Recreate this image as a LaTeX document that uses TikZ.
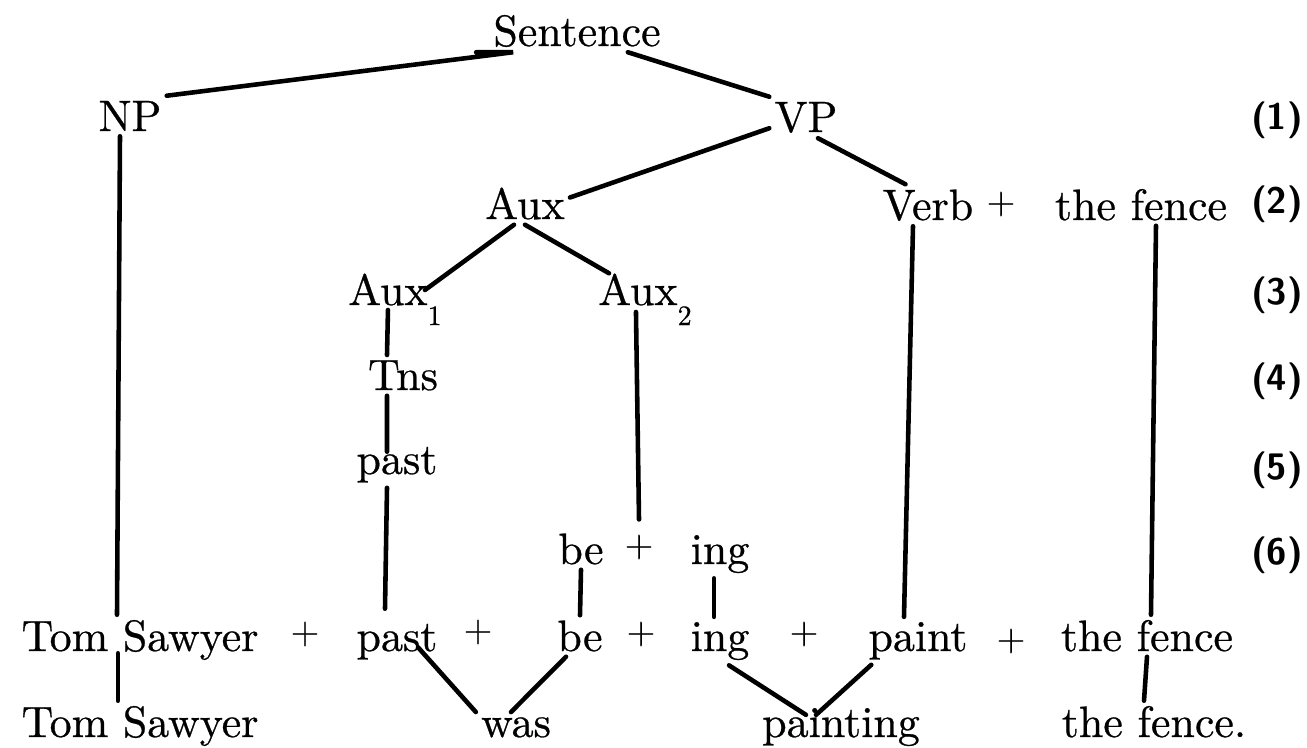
\documentclass[tikz,border=0pt]{standalone}
\usepackage{fontspec}
\newfontfamily\heavyrm{lmroman10-regular.otf}[FakeBold=0.6]
\tikzset{
  word/.style={inner sep=1.5pt, outer sep=0pt, anchor=base, font=\heavyrm\fontsize{12.5}{15}\selectfont},
  plus/.style={inner sep=1.5pt, outer sep=0pt, font=\heavyrm\fontsize{10.5}{12}\selectfont},
  stepno/.style={font=\sffamily\bfseries\fontsize{10.5}{12}\selectfont},
  branch/.style={line width=1.3pt, line cap=round},
}
\newcommand{\lowsub}[1]{\raisebox{-5.7pt}{\footnotesize #1}}

\begin{document}
\begin{tikzpicture}
\useasboundingbox (0,0) rectangle (13.07,-7.48);

% Phrase structure
\node[word] (sent) at (5.77,-0.46) {Sentence};
\node[word] (np) at (1.30,-1.31) {NP};
\node[word] (vp) at (8.06,-1.32) {VP};
\node[word] (aux) at (5.25,-2.19) {Aux};
\node[word] (verb) at (9.28,-2.20) {Verb};
\node[plus] (vplus) at (10.01,-2.04) {+};
\node[word] (fenceA) at (11.41,-2.20) {the fence};
\node[word, anchor=base west] (aux1) at (3.43,-3.05) {Aux\lowsub{1}};
\node[word, anchor=base west] (aux2) at (5.93,-3.05) {Aux\lowsub{2}};
\node[word] (tns) at (4.03,-3.90) {Tns};
\node[word] (pastA) at (3.97,-4.74) {past};
\node[word] (beA) at (5.81,-5.64) {be};
\node[plus] (plusA) at (6.39,-5.47) {+};
\node[word] (ingA) at (7.20,-5.64) {ing};

% Morpheme string
\node[word] (tsA) at (1.40,-6.51) {Tom Sawyer};
\node[plus] (p1) at (3.05,-6.34) {+};
\node[word] (pastB) at (3.97,-6.51) {past};
\node[plus] (p2) at (4.78,-6.32) {+};
\node[word] (beB) at (5.80,-6.51) {be};
\node[plus] (p3) at (6.41,-6.34) {+};
\node[word] (ingB) at (7.20,-6.51) {ing};
\node[plus] (p4) at (8.04,-6.34) {+};
\node[word] (paintB) at (9.18,-6.51) {paint};
\node[plus] (p5) at (10.11,-6.41) {+};
\node[word] (fenceB) at (11.47,-6.51) {the fence};

% Final string
\node[word] (tsB) at (1.40,-7.37) {Tom Sawyer};
\node[word] (was) at (5.16,-7.37) {was};
\node[word] (painting) at (8.41,-7.37) {painting};
\node[word] (fenceC) at (11.54,-7.37) {the fence.};

% Step numbers
\foreach \n/\y in {1/1.20, 2/2.04, 3/2.95, 4/3.81, 5/4.70, 6/5.55}
  \node[stepno] (step\n) at (12.77,-\y) {(\n)};

% Branches
\draw[branch] (np.north east) -- ([xshift=.25cm]sent.south west) -- ++(-.37,0);
\draw[branch] ([xshift=-.38cm]sent.south east) -- (vp.north west);
\draw[branch] ([yshift=.1cm]vp.south west) -- ([yshift=.06cm]aux.east);
\draw[branch] ([xshift=.12cm]vp.south) -- ([xshift=.28cm]verb.north west);
\draw[branch] ([xshift=-.11cm]aux.south) -- ([xshift=.3cm,yshift=.15cm]aux1.base);
\draw[branch] (aux.south) -- ([xshift=.16cm,yshift=-.05cm]aux2.north west);

% Vertical lines
\draw[branch] ([xshift=-.07cm,yshift=-.05cm]aux1.base) -- ([xshift=-.16cm]tns.north);
\draw[branch] ([xshift=-.16cm]tns.south) -- ([xshift=-.1cm,yshift=-.1cm]pastA.north);
\draw[branch] ([xshift=-.1cm]pastA.south) -- ([xshift=-.12cm,yshift=.1cm]pastB.north);
\draw[branch] ([xshift=-.1cm]np.south) -- ([xshift=-.23cm]tsA.north);
\draw[branch] ([xshift=-.22cm,yshift=.12cm]tsA.south) -- ([xshift=-.22cm]tsB.north);
\draw[branch] ([xshift=-.09cm,yshift=-.07cm]aux2.base) -- ([yshift=.1cm]plusA.north);
\draw[branch] (beA.south) -- (beB.north);
\draw[branch] ([xshift=-.06cm]ingA.south) -- ([xshift=-.06cm]ingB.north);
\draw[branch] ([xshift=-.15cm]verb.south) -- ([xshift=-.14cm]paintB.north);
\draw[branch] ([xshift=.15cm]fenceA.south) -- ([xshift=.04cm]fenceB.north);
\draw[branch] (fenceB.south) -- ([xshift=-.1cm]fenceC.north);

% Contractions
\draw[branch] ([xshift=.21cm,yshift=.175cm]pastB.south) -- (was.north west);
\draw[branch] ([xshift=-.14cm]beB.south) -- ([xshift=-.05cm]was.north);
\draw[branch] ([xshift=.09cm]ingB.south) -- ([xshift=-.35cm,yshift=-.12cm]painting.north);
\draw[branch] ([xshift=.08cm]paintB.south west) -- ([xshift=-.25cm,yshift=-.12cm]painting.north);
\end{tikzpicture}
\end{document}
